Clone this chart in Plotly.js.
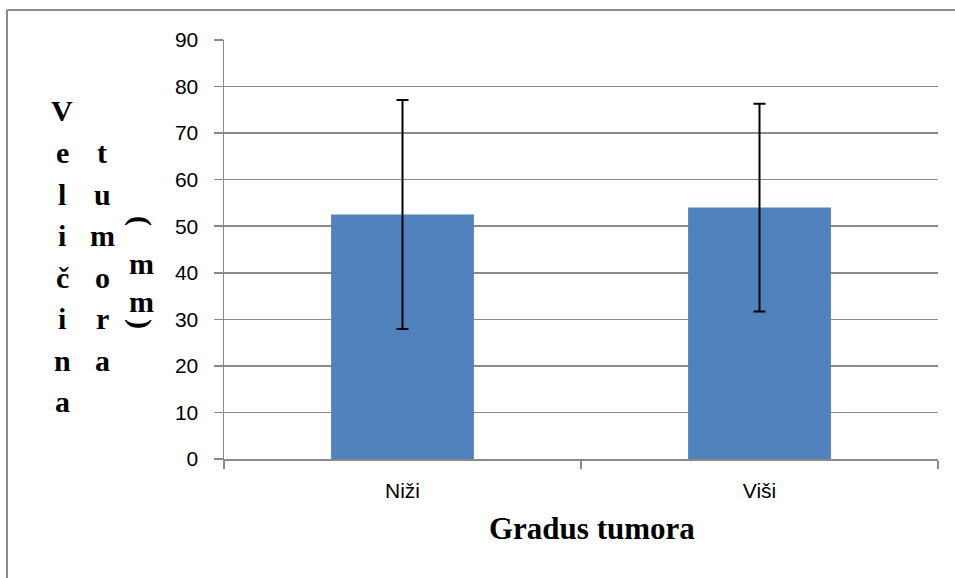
<!DOCTYPE html>
<html>
<head>
<meta charset="utf-8">
<script src="https://cdn.plot.ly/plotly-3.0.1.min.js"></script>
<style>
  html, body { margin: 0; padding: 0; background: #fff; }
  #chart { width: 955px; height: 578px; }
</style>
</head>
<body>
<div id="chart"></div>
<script>
// ---- data ----
const categories = ['Niži', 'Viši'];
const meanSize = [52.5, 54.0];
const sdSize = [24.6, 22.3];
const yTickVals = [0, 10, 20, 30, 40, 50, 60, 70, 80, 90];
const xTitleText = 'Gradus tumora';
const yTitleCol1 = ['V', 'e', 'l', 'i', 'č', 'i', 'n', 'a'];
const yTitleCol2 = ['t', 'u', 'm', 'o', 'r', 'a'];
const yTitleCol3 = ['(', 'm', 'm', ')'];

// ---- layout helpers (pixel -> paper) ----
const L = 224, R = 938, T = 40, B = 459, W = 955, H = 578;
const px = v => (v - L) / (R - L);
const py = v => (B - v) / (B - T);

const titleFont = { family: 'Liberation Serif, Times New Roman, serif', size: 30, color: '#000' };
const annotations = [];
const F = titleFont.size;
function letter(t, xc, baseline, angle) {
  annotations.push({
    text: '<b>' + t + '</b>', xref: 'paper', yref: 'paper',
    x: px(xc), y: py(baseline - 0.3 * F), xanchor: 'center', yanchor: 'middle',
    showarrow: false, font: titleFont, textangle: angle || 0
  });
}
const col1Base = [120, 161, 203, 244, 286, 327, 369, 410];
yTitleCol1.forEach((c, i) => letter(c, 62, col1Base[i]));
yTitleCol2.forEach((c, i) => letter(c, 102, col1Base[i + 1]));
const col3Base = [230, 272, 310, 333];
yTitleCol3.forEach((c, i) => letter(c, 141, col3Base[i], (c === '(' || c === ')') ? 90 : 0));

annotations.push({
  text: '<b>' + xTitleText + '</b>', xref: 'paper', yref: 'paper',
  x: px(592), y: py(528), xanchor: 'center', yanchor: 'middle',
  showarrow: false, font: { family: 'Liberation Serif, Times New Roman, serif', size: 31, color: '#000' }
});

const frameColor = '#8a8a8a';
const shapes = [
  { type: 'line', xref: 'paper', yref: 'paper', x0: px(7), x1: px(W + 2), y0: py(10), y1: py(10), line: { color: frameColor, width: 2 } },
  { type: 'line', xref: 'paper', yref: 'paper', x0: px(7), x1: px(7), y0: py(10), y1: py(H + 2), line: { color: frameColor, width: 2 } }
];

const trace = {
  type: 'bar',
  x: categories,
  y: meanSize,
  width: 0.4,
  marker: { color: '#4f81bd', line: { width: 0 } },
  error_y: { type: 'data', array: sdSize, visible: true, color: '#000', thickness: 2, width: 6 },
  hoverinfo: 'x+y'
};

const tickFont = { family: 'Liberation Sans, Arial, sans-serif', size: 21, color: '#000' };
const layout = {
  width: W, height: H,
  margin: { l: L, r: W - R, t: T, b: H - B, pad: 0 },
  paper_bgcolor: '#fff', plot_bgcolor: '#fff',
  showlegend: false,
  bargap: 0.6,
  xaxis: {
    type: 'category', tickson: 'boundaries', ticks: 'outside', ticklen: 8,
    tickcolor: '#8a8a8a', tickwidth: 1.5,
    showline: true, linecolor: '#8a8a8a', linewidth: 1.5,
    showgrid: false, tickfont: tickFont, ticklabelstandoff: 12,
    fixedrange: true
  },
  yaxis: {
    range: [0, 90], tickvals: yTickVals, ticks: 'outside', ticklen: 9,
    tickcolor: '#8a8a8a', tickwidth: 1.5,
    showline: true, linecolor: '#8a8a8a', linewidth: 1.5,
    showgrid: true, gridcolor: '#8a8a8a', gridwidth: 1.5,
    zeroline: false, tickfont: tickFont, ticklabelstandoff: 11,
    fixedrange: true
  },
  annotations: annotations,
  shapes: shapes
};

Plotly.newPlot('chart', [trace], layout, { displayModeBar: false, staticPlot: true });
</script>
</body>
</html>
